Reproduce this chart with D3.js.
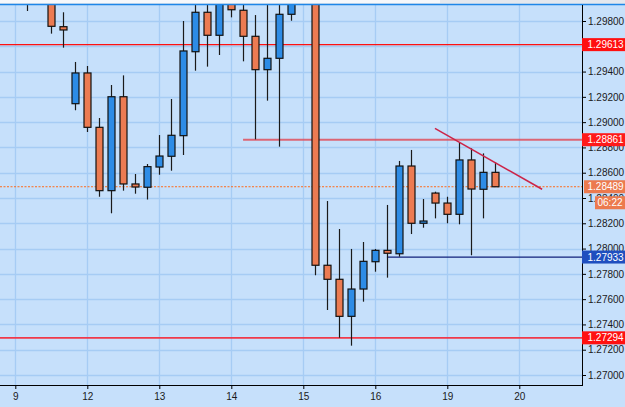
<!DOCTYPE html>
<meta charset="utf-8">
<style>
body { margin: 0; background: #c6e0fb; }
text { font-family: "Liberation Sans", Arial, sans-serif; font-size: 10px; }
</style>
<body>
<script src="https://d3js.org/d3.v7.min.js"></script>
<script>

// 4-hour candles, index 0 = first candle of day 9
var firstIndex = 1;
var open  = [1.3001, 1.2996, 1.3000, 1.29755, 1.29146, 1.29389, 1.28959, 1.28458, 1.29201, 1.28511,
             1.28485, 1.28645, 1.28730, 1.28893, 1.29557, 1.29869, 1.29687, 1.2998, 1.29885, 1.29679,
             1.29415, 1.29505, 1.29853, 1.2999, 1.3003, 1.27868, 1.27757, 1.27464, 1.27680, 1.27896,
             1.27986, 1.27959, 1.28653, 1.28200, 1.28439, 1.28360, 1.28271, 1.28701, 1.28469, 1.28603];
var high  = [1.3004, 1.3003, 1.3002, 1.29869, 1.29476, 1.29444, 1.29033, 1.29294, 1.29370, 1.28590,
             1.28669, 1.28898, 1.29183, 1.29800, 1.2996, 1.2997, 1.3001, 1.3001, 1.2997, 1.29847,
             1.2996, 1.2997, 1.3002, 1.3006, 1.3005, 1.28376, 1.28155, 1.27997, 1.28052, 1.27997,
             1.28345, 1.28693, 1.28780, 1.28392, 1.28450, 1.28410, 1.28837, 1.28793, 1.28753, 1.28682];
var low   = [1.29879, 1.2995, 1.29700, 1.29589, 1.29094, 1.28922, 1.28410, 1.28279, 1.28458, 1.28434,
             1.28388, 1.28584, 1.28616, 1.28740, 1.29407, 1.29439, 1.29531, 1.29829, 1.29481, 1.28864,
             1.29170, 1.28806, 1.29802, 1.2995, 1.27788, 1.27514, 1.27295, 1.27232, 1.27580, 1.27817,
             1.27770, 1.27936, 1.28115, 1.28165, 1.28239, 1.28200, 1.28192, 1.27947, 1.28239, 1.28489];
var close = [1.2996, 1.3000, 1.29758, 1.29729, 1.29389, 1.28959, 1.28458, 1.29201, 1.28511, 1.28487,
             1.28648, 1.28732, 1.28896, 1.29563, 1.29869, 1.29687, 1.2998, 1.29889, 1.29679, 1.29415,
             1.29505, 1.29853, 1.2999, 1.3003, 1.27868, 1.27757, 1.27464, 1.27680, 1.27899, 1.27986,
             1.27963, 1.28653, 1.28200, 1.28218, 1.28360, 1.28271, 1.28701, 1.28471, 1.28603, 1.28489];

var dayLabels = ["9", "12", "13", "14", "15", "16", "19", "20"];
var dayIndex  = [0, 6, 12, 18, 24, 30, 36, 42];
var priceTicks = [1.298, 1.296, 1.294, 1.292, 1.290, 1.288, 1.286, 1.284, 1.282, 1.280, 1.278, 1.276, 1.274, 1.272, 1.270];

var levelPrice = [1.29613, 1.28861, 1.27933, 1.27294];
var levelStart = [-2, 18.98, 30.97, -2];
var levelColor = ["#ff1010", "#e0505e", "#10207a", "#f03a4a"];
var levelBox   = ["#ff1010", "#ff1a1a", "#1f4fbf", "#ff1010"];
var levelWidth = [1.2, 2, 1.2, 1.6];

var lastPrice = 1.28489;
var timeLeft = "06:22";
var trendIdx = [34.97, 43.9];
var trendPrice = [1.28951, 1.28469];

var width = 625, height = 407,
    plotRight = 582, plotTop = 5, plotBottom = 385;

var x = d3.scaleLinear().domain([0, 42]).range([15.3, 519.3]);
var y = d3.scaleLinear().domain([1.298, 1.270]).range([21, 375]);

var svg = d3.select("body").append("svg")
    .attr("width", width)
    .attr("height", height);

// top strip
svg.append("rect").attr("x", 0).attr("y", 0).attr("width", width).attr("height", 4).attr("fill", "#e4e8ee");
svg.append("rect").attr("x", 0).attr("y", 0).attr("width", 440).attr("height", 3).attr("fill", "#f6f8fb");

svg.append("defs").append("clipPath").attr("id", "plot")
  .append("rect").attr("x", 0).attr("y", plotTop).attr("width", plotRight).attr("height", plotBottom - plotTop);

var plot = svg.append("g").attr("clip-path", "url(#plot)");

// grid
plot.selectAll(".hg").data(priceTicks).enter().append("line")
    .attr("x1", 0).attr("x2", plotRight)
    .attr("y1", function(d) { return Math.round(y(d)) + 0.5; })
    .attr("y2", function(d) { return Math.round(y(d)) + 0.5; })
    .attr("stroke", "#a6ccf4").attr("stroke-width", 1.3);
plot.selectAll(".vg").data(dayIndex).enter().append("line")
    .attr("x1", function(d) { return Math.round(x(d)) + 0.5; })
    .attr("x2", function(d) { return Math.round(x(d)) + 0.5; })
    .attr("y1", plotTop).attr("y2", plotBottom)
    .attr("stroke", "#a6ccf4").attr("stroke-width", 1.3);

// horizontal levels
levelPrice.forEach(function(p, k) {
  plot.append("line")
      .attr("x1", x(levelStart[k])).attr("x2", plotRight)
      .attr("y1", y(p)).attr("y2", y(p))
      .attr("stroke", levelColor[k]).attr("stroke-width", levelWidth[k])
      .attr("opacity", k == 1 ? 0.85 : 1);
});

// last price line
plot.append("line")
    .attr("x1", 0).attr("x2", plotRight)
    .attr("y1", y(lastPrice)).attr("y2", y(lastPrice))
    .attr("stroke", "#ff6a1a").attr("stroke-width", 1)
    .attr("stroke-dasharray", "2,1.5");

// candles
var candles = open.map(function(o, k) {
  return {i: firstIndex + k, o: o, h: high[k], l: low[k], c: close[k]};
});

var cg = plot.selectAll(".candle").data(candles).enter().append("g");

cg.append("line")
    .attr("x1", function(d) { return Math.round(x(d.i)) + 0.5; })
    .attr("x2", function(d) { return Math.round(x(d.i)) + 0.5; })
    .attr("y1", function(d) { return y(d.h); })
    .attr("y2", function(d) { return y(d.l); })
    .attr("stroke", "#1a1a1a").attr("stroke-width", 1.2);

cg.append("rect")
    .attr("x", function(d) { return Math.round(x(d.i)) - 3; })
    .attr("width", 7)
    .attr("y", function(d) { return y(Math.max(d.o, d.c)); })
    .attr("height", function(d) { return Math.max(1.5, Math.abs(y(d.o) - y(d.c))); })
    .attr("fill", function(d) { return d.c >= d.o ? "#2d8ce6" : "#ec7b52"; })
    .attr("stroke", "#111").attr("stroke-width", 1.2);

// trend line
plot.append("line")
    .attr("x1", x(trendIdx[0])).attr("y1", y(trendPrice[0]))
    .attr("x2", x(trendIdx[1])).attr("y2", y(trendPrice[1]))
    .attr("stroke", "#cc2448").attr("stroke-width", 1.5);

// blue top border
svg.append("line").attr("x1", 0).attr("x2", width).attr("y1", 4.5).attr("y2", 4.5)
    .attr("stroke", "#1f86e8").attr("stroke-width", 1.5);

// right axis
var yAxis = d3.axisRight(y).tickValues(priceTicks).tickSize(4).tickPadding(2)
    .tickFormat(d3.format(".5f"));
var ya = svg.append("g").attr("transform", "translate(" + plotRight + ",0)").call(yAxis);
ya.select(".domain").remove();
ya.selectAll("text").attr("fill", "#1a1a1a").style("font-size", "10px");
ya.selectAll("line").attr("stroke", "#000");
svg.append("line").attr("x1", plotRight + 0.5).attr("x2", plotRight + 0.5)
    .attr("y1", plotTop).attr("y2", plotBottom + 0.5).attr("stroke", "#000");

// bottom axis
var xAxis = d3.axisBottom(x).tickValues(dayIndex).tickSize(4).tickPadding(4)
    .tickFormat(function(d, k) { return dayLabels[k]; });
var xa = svg.append("g").attr("transform", "translate(0," + plotBottom + ")").call(xAxis);
xa.select(".domain").remove();
xa.selectAll("text").attr("fill", "#1a1a1a").style("font-size", "10px");
xa.selectAll("line").attr("stroke", "#000");
svg.append("line").attr("x1", 0).attr("x2", plotRight + 1)
    .attr("y1", plotBottom + 0.5).attr("y2", plotBottom + 0.5).attr("stroke", "#000");

// price boxes
function priceBox(p, fill, label, x0, tx, dy) {
  var yc = y(p) + (dy || 0);
  svg.append("rect").attr("x", x0).attr("y", yc - 6.5).attr("width", width - x0).attr("height", 13)
      .attr("fill", fill);
  svg.append("text").attr("x", x0 + tx).attr("y", yc + 3.6)
      .attr("fill", "#fff").text(label);
}
levelPrice.forEach(function(p, k) {
  priceBox(p, levelBox[k], d3.format(".5f")(p), plotRight, 5.5);
});
priceBox(lastPrice, "#ec7a4e", d3.format(".5f")(lastPrice), plotRight + 2, 3.5);
priceBox(lastPrice, "#ec7a4e", timeLeft, 595, 2.5, 16);

</script>
</body>
